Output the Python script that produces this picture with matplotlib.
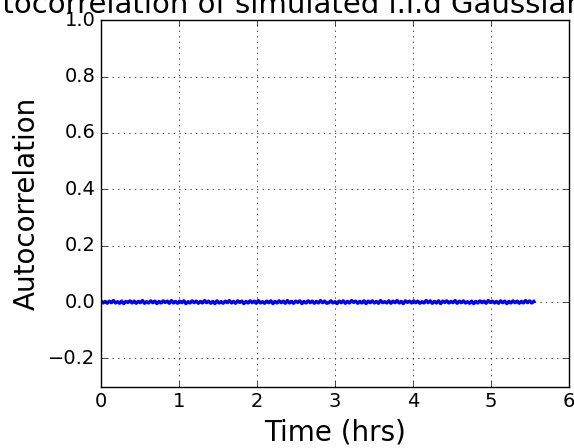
import matplotlib
matplotlib.use('Agg')
import matplotlib.pyplot as plt
import numpy as np

# autocorrelation values (lag 0 left out, all tiny noise around zero)
acf = [0.004, -0.003, 0.002, -0.004, 0.003, -0.002, 0.005, -0.003, 0.001, -0.004,
       0.003, -0.005, 0.002, -0.001, 0.004, -0.003, 0.003, -0.004, 0.002, -0.002,
       0.005, -0.004, 0.001, -0.003, 0.004, -0.002, 0.003, -0.005, 0.002, -0.003,
       0.004, -0.001, 0.003, -0.004, 0.005, -0.003, 0.002, -0.004, 0.003, -0.002,
       0.004, -0.005, 0.001, -0.003, 0.004, -0.002, 0.003, -0.004, 0.002, -0.003,
       0.005, -0.002, 0.003, -0.004, 0.002, -0.005, 0.004, -0.003, 0.001, -0.004,
       0.003, -0.002, 0.005, -0.003, 0.002, -0.004, 0.004, -0.001, 0.003, -0.005,
       0.002, -0.003, 0.004, -0.002, 0.003, -0.004, 0.005, -0.003, 0.001, -0.004,
       0.003, -0.002, 0.004, -0.005, 0.002, -0.003, 0.004, -0.002, 0.003, -0.004,
       0.005, -0.003, 0.002, -0.004, 0.003, -0.001, 0.004, -0.005, 0.002, -0.003,
       0.004, -0.002, 0.003, -0.004, 0.002, -0.003, 0.005, -0.002, 0.003, -0.004,
       -0.002, 0.004, -0.003, 0.001, -0.005, 0.003, -0.002, 0.004, -0.004, 0.002,
       -0.003, 0.005, -0.001, 0.003, -0.004, 0.002, -0.003, 0.004, -0.005, 0.003,
       -0.002, 0.004, -0.003, 0.002, -0.004, 0.005, -0.002, 0.001, -0.003, 0.004,
       -0.004, 0.003, -0.002, 0.005, -0.003, 0.002, -0.005, 0.004, -0.001, 0.003,
       -0.003, 0.004, -0.002, 0.003, -0.004, 0.001, -0.003, 0.005, -0.002, 0.004,
       -0.004, 0.002, -0.003, 0.004, -0.005, 0.003, -0.001, 0.004, -0.003, 0.002,
       -0.002, 0.005, -0.004, 0.003, -0.002, 0.004, -0.003, 0.001, -0.004, 0.003,
       -0.005, 0.002, -0.003, 0.004, -0.002, 0.003, -0.004, 0.005, -0.001, 0.003,
       -0.003, 0.002, -0.004, 0.004, -0.002, 0.003, -0.005, 0.002, -0.003, 0.004,
       -0.002, 0.003, -0.004, 0.002, -0.003, 0.005, -0.002, 0.004, -0.003, 0.002]
max_lag_hrs = 5.55
xticks = [0, 1, 2, 3, 4, 5, 6]
yticks = [-0.2, 0.0, 0.2, 0.4, 0.6, 0.8, 1.0]

plt.style.use('classic')
fig = plt.figure(figsize=(5.74, 4.48), dpi=100, facecolor='white')
ax = fig.add_axes([0.176, 0.137, 0.815, 0.818])

lags = np.linspace(0, max_lag_hrs, len(acf))
ax.plot(lags, acf, color='blue', linewidth=2.5)

ax.set_xlim(0, 6)
ax.set_ylim(-0.3, 1.0)
ax.set_xticks(xticks)
ax.set_yticks(yticks)
ax.tick_params(labelsize=14)
ax.grid(True)
ax.set_xlabel('Time (hrs)', fontsize=20)
ax.set_ylabel('Autocorrelation', fontsize=20)
ax.set_title('Autocorrelation of simulated i.i.d Gaussian process', fontsize=21)

fig.savefig('out.png', dpi=100, facecolor='white')
